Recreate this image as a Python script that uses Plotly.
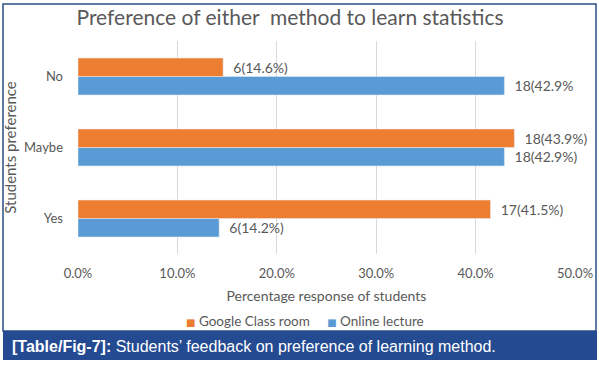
import plotly.graph_objects as go

categories = ["Yes", "Maybe", "No"]
google_vals = [41.5, 43.9, 14.6]
online_vals = [14.2, 42.9, 42.9]
google_labels = ["17(41.5%)", "18(43.9%)", "6(14.6%)"]
online_labels = ["6(14.2%)", "18(42.9%)", "18(42.9%"]
x_ticks = [0, 10, 20, 30, 40, 50]
x_tick_text = ["0.0%", "10.0%", "20.0%", "30.0%", "40.0%", "50.0%"]
series_names = ["Google Class room", "Online lecture"]
series_colors = ["#ED7D31", "#5B9BD5"]

W, H = 599, 365
ML, MR, MT, MB = 78, 24, 41, 111
PW, PH = W - ML - MR, H - MT - MB

def px(x):
    return (x - ML) / PW

def py(y):
    return 1 - (y - MT) / PH

GRAY = "#595959"
FONT = "Lato"
PAD = "\u00a0\u00a0"

fig = go.Figure()
fig.add_trace(go.Bar(
    y=categories, x=online_vals, orientation="h", name=series_names[1],
    marker_color=series_colors[1], text=[PAD + t for t in online_labels], textposition="outside",
    textfont=dict(color=GRAY, size=14, family=FONT), cliponaxis=False,
    showlegend=False,
))
fig.add_trace(go.Bar(
    y=categories, x=google_vals, orientation="h", name=series_names[0],
    marker_color=series_colors[0], text=[PAD + t for t in google_labels], textposition="outside",
    textfont=dict(color=GRAY, size=14, family=FONT), cliponaxis=False,
    showlegend=False,
))

legend_text = "\u00a0\u00a0\u00a0\u00a0\u00a0".join(
    f"<span style='color:{c};font-family:DejaVu Sans;font-size:10px'>■</span>\u00a0{n}"
    for n, c in zip(series_names, series_colors)
)

fig.update_layout(
    width=W, height=H,
    margin=dict(l=ML, r=MR, t=MT, b=MB, autoexpand=False),
    paper_bgcolor="white", plot_bgcolor="white",
    barmode="group", bargap=0.48, bargroupgap=0,
    showlegend=False,
    font=dict(family=FONT, color=GRAY, size=13),
    title=dict(text="Preference of either&nbsp; method to learn statistics",
               x=px(290), xref="paper", xanchor="center",
               y=1 - 18 / H, yref="container", yanchor="middle",
               font=dict(size=21, color=GRAY, family=FONT)),
    xaxis=dict(range=[0, 50], tickvals=x_ticks, ticktext=x_tick_text,
               showgrid=True, gridcolor="#D9D9D9", gridwidth=1,
               zeroline=False, showline=False, ticks="", automargin=False,
               ticklabelstandoff=10,
               tickfont=dict(size=13, color=GRAY),
               title=dict(text="Percentage response of students",
                          font=dict(size=14, color=GRAY), standoff=11)),
    yaxis=dict(showgrid=False, zeroline=False, showline=False, ticks="",
               ticklabelstandoff=14, automargin=False,
               tickfont=dict(size=13, color=GRAY),
               title=dict(text="Students preference",
                          font=dict(size=15, color=GRAY), standoff=3)),
    shapes=[
        dict(type="rect", xref="paper", yref="paper",
             x0=px(3), x1=px(596), y0=py(331), y1=py(4),
             line=dict(color="#2B4F81", width=1.5), fillcolor="rgba(0,0,0,0)",
             layer="below"),
        dict(type="rect", xref="paper", yref="paper",
             x0=px(3), x1=px(597), y0=py(360), y1=py(331),
             line=dict(width=0), fillcolor="#244A91", layer="above"),
    ],
    annotations=[
        dict(text=legend_text, xref="paper", yref="paper",
             x=px(305), y=py(321), xanchor="center", yanchor="middle",
             showarrow=False, font=dict(size=13.5, color=GRAY, family=FONT)),
        dict(text="<b>[Table/Fig-7]:</b> Students’ feedback on preference of learning method.",
             xref="paper", yref="paper", x=px(10), y=py(346),
             xanchor="left", yanchor="middle", showarrow=False,
             font=dict(family="Liberation Sans", size=16, color="white")),
    ],
)

fig.write_html("out.html", config={"displayModeBar": False},
               post_script="document.body.style.margin='0';")
